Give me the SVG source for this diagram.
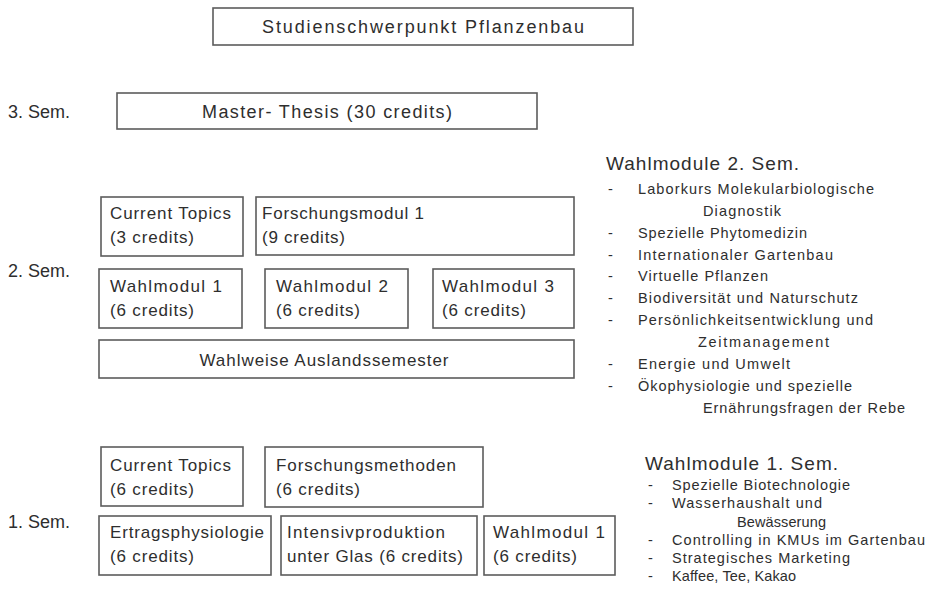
<svg xmlns="http://www.w3.org/2000/svg" width="929" height="611" viewBox="0 0 929 611">
<style>
.b{fill:#fff;stroke:#5c5c5c;stroke-width:1.6}
.t{font-family:"Liberation Sans",Arial,sans-serif;font-size:17px;fill:#2e2e2e}
.s{font-family:"Liberation Sans",Arial,sans-serif;font-size:18px;fill:#2e2e2e}
.h{font-family:"Liberation Sans",Arial,sans-serif;font-size:19px;fill:#2e2e2e}
.l{font-family:"Liberation Sans",Arial,sans-serif;font-size:14.5px;fill:#2e2e2e}
.c{text-anchor:middle}
</style>
<rect width="929" height="611" fill="#fff"/>
<g id="title"><rect class="b" x="213" y="8" width="420" height="37"/><text class="s c" x="423" y="33" textLength="322">Studienschwerpunkt Pflanzenbau</text></g>
<g id="labels">
<text class="s" x="8" y="118">3. Sem.</text>
<text class="s" x="8" y="277">2. Sem.</text>
<text class="s" x="8" y="528">1. Sem.</text>
</g>
<g id="master"><rect class="b" x="117" y="93" width="420" height="36"/><text class="s c" x="327" y="118" textLength="250">Master- Thesis (30 credits)</text></g>
<g id="ct2"><rect class="b" x="101" y="197" width="142" height="59"/><text class="t" x="110" y="219" textLength="121">Current Topics</text><text class="t" x="110" y="243" textLength="84">(3 credits)</text></g>
<g id="fm1"><rect class="b" x="256" y="197" width="318" height="58"/><text class="t" x="262" y="219" textLength="162">Forschungsmodul 1</text><text class="t" x="262" y="243" textLength="83">(9 credits)</text></g>
<g id="w1s2"><rect class="b" x="99" y="269" width="143" height="59"/><text class="t" x="110" y="292" textLength="112">Wahlmodul 1</text><text class="t" x="110" y="316" textLength="84">(6 credits)</text></g>
<g id="w2s2"><rect class="b" x="265" y="269" width="143" height="59"/><text class="t" x="276" y="292" textLength="112">Wahlmodul 2</text><text class="t" x="276" y="316" textLength="84">(6 credits)</text></g>
<g id="w3s2"><rect class="b" x="433" y="269" width="141" height="59"/><text class="t" x="442" y="292" textLength="112">Wahlmodul 3</text><text class="t" x="442" y="316" textLength="84">(6 credits)</text></g>
<g id="ausland"><rect class="b" x="99" y="340" width="475" height="38"/><text class="t c" x="324" y="366" textLength="249">Wahlweise Auslandssemester</text></g>
<g id="ct1"><rect class="b" x="101" y="447" width="142" height="59"/><text class="t" x="110" y="471" textLength="121">Current Topics</text><text class="t" x="110" y="495" textLength="84">(6 credits)</text></g>
<g id="fmeth"><rect class="b" x="265" y="447" width="218" height="60"/><text class="t" x="276" y="471" textLength="180">Forschungsmethoden</text><text class="t" x="276" y="495" textLength="84">(6 credits)</text></g>
<g id="ertrag"><rect class="b" x="99" y="516" width="172" height="59"/><text class="t" x="110" y="538" textLength="154">Ertragsphysiologie</text><text class="t" x="110" y="562" textLength="84">(6 credits)</text></g>
<g id="intensiv"><rect class="b" x="281" y="516" width="196" height="59"/><text class="t" x="287" y="538" textLength="158">Intensivproduktion</text><text class="t" x="287" y="562" textLength="176">unter Glas (6 credits)</text></g>
<g id="w1s1"><rect class="b" x="484" y="516" width="131" height="59"/><text class="t" x="493" y="538" textLength="112">Wahlmodul 1</text><text class="t" x="493" y="562" textLength="84">(6 credits)</text></g>
<g id="list2">
<text class="h" x="606" y="170" textLength="193">Wahlmodule 2. Sem.</text>
<text class="l" x="608" y="194">-</text><text class="l" x="638" y="194" textLength="236">Laborkurs Molekularbiologische</text>
<text class="l" x="703" y="216" textLength="78">Diagnostik</text>
<text class="l" x="608" y="238">-</text><text class="l" x="638" y="238" textLength="169">Spezielle Phytomedizin</text>
<text class="l" x="608" y="260">-</text><text class="l" x="638" y="260" textLength="195">Internationaler Gartenbau</text>
<text class="l" x="608" y="281">-</text><text class="l" x="638" y="281" textLength="130">Virtuelle Pflanzen</text>
<text class="l" x="608" y="303">-</text><text class="l" x="638" y="303" textLength="220">Biodiversität und Naturschutz</text>
<text class="l" x="608" y="325">-</text><text class="l" x="638" y="325" textLength="235">Persönlichkeitsentwicklung  und</text>
<text class="l" x="698" y="347" textLength="131">Zeitmanagement</text>
<text class="l" x="608" y="369">-</text><text class="l" x="638" y="369" textLength="152">Energie und Umwelt</text>
<text class="l" x="608" y="391">-</text><text class="l" x="638" y="391" textLength="214">Ökophysiologie und spezielle</text>
<text class="l" x="703" y="413" textLength="202">Ernährungsfragen  der Rebe</text>
</g>
<g id="list1">
<text class="h" x="645" y="470" textLength="193">Wahlmodule 1. Sem.</text>
<text class="l" x="648" y="490">-</text><text class="l" x="672" y="490" textLength="178">Spezielle Biotechnologie</text>
<text class="l" x="648" y="508">-</text><text class="l" x="672" y="508" textLength="150">Wasserhaushalt und</text>
<text class="l" x="737" y="527" textLength="89">Bewässerung</text>
<text class="l" x="648" y="545">-</text><text class="l" x="672" y="545" textLength="253">Controlling in KMUs im Gartenbau</text>
<text class="l" x="648" y="563">-</text><text class="l" x="672" y="563" textLength="178">Strategisches Marketing</text>
<text class="l" x="648" y="581">-</text><text class="l" x="672" y="581" textLength="124">Kaffee, Tee, Kakao</text>
</g>
</svg>
